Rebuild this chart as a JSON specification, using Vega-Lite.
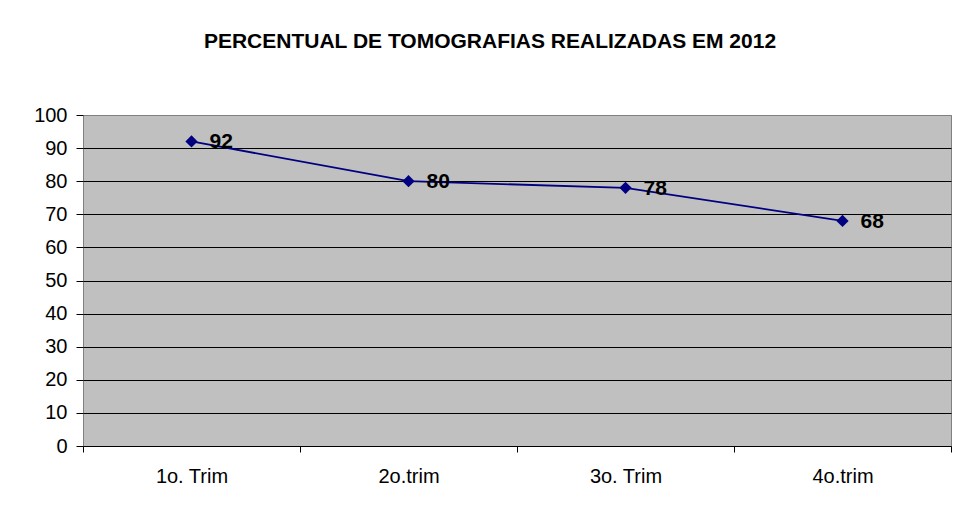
{
  "$schema": "https://vega.github.io/schema/vega-lite/v6.json",
  "width": 868,
  "height": 331,
  "autosize": {"type": "none"},
  "padding": {"left": 83, "top": 115, "right": 3, "bottom": 66},
  "background": "white",
  "title": {
    "text": "PERCENTUAL DE TOMOGRAFIAS REALIZADAS EM 2012",
    "font": "Liberation Sans",
    "fontSize": 21,
    "fontWeight": "bold",
    "color": "black",
    "anchor": "middle",
    "baseline": "alphabetic",
    "dx": -27,
    "offset": 36
  },
  "data": {
    "values": [
      {"trimestre": "1o. Trim", "percentual": 92},
      {"trimestre": "2o.trim", "percentual": 80},
      {"trimestre": "3o. Trim", "percentual": 78},
      {"trimestre": "4o.trim", "percentual": 68}
    ]
  },
  "encoding": {
    "x": {
      "field": "trimestre",
      "type": "nominal",
      "sort": null,
      "scale": {"type": "band", "paddingInner": 0, "paddingOuter": 0},
      "axis": {
        "title": null,
        "labelAngle": 0,
        "labelFont": "Liberation Sans",
        "labelFontSize": 20,
        "labelColor": "black",
        "labelPadding": 14,
        "tickBand": "extent",
        "tickSize": 6,
        "tickColor": "black",
        "domainColor": "black",
        "grid": false
      }
    },
    "y": {
      "field": "percentual",
      "type": "quantitative",
      "scale": {"domain": [0, 100], "nice": false},
      "axis": {
        "title": null,
        "values": [0, 10, 20, 30, 40, 50, 60, 70, 80, 90, 100],
        "labelFont": "Liberation Sans",
        "labelFontSize": 20,
        "labelColor": "black",
        "labelPadding": 9,
        "tickSize": 7,
        "tickColor": "black",
        "domain": false,
        "grid": true,
        "gridColor": {"condition": {"test": "datum.value == 100 || datum.value == 0", "value": "#808080"}, "value": "black"},
        "gridWidth": 1,
        "gridOpacity": 1
      }
    }
  },
  "layer": [
    {
      "mark": {"type": "line", "color": "#000080", "strokeWidth": 1.8}
    },
    {
      "mark": {"type": "point", "shape": "diamond", "filled": true, "color": "#000080", "size": 150, "opacity": 1}
    },
    {
      "mark": {"type": "text", "align": "left", "baseline": "alphabetic", "dx": 18, "dy": 7, "font": "Liberation Sans", "fontSize": 21, "fontWeight": "bold", "color": "black"},
      "encoding": {"text": {"field": "percentual", "type": "quantitative"}}
    }
  ],
  "config": {
    "view": {"fill": "#C0C0C0", "stroke": "#808080", "strokeWidth": 1}
  }
}
